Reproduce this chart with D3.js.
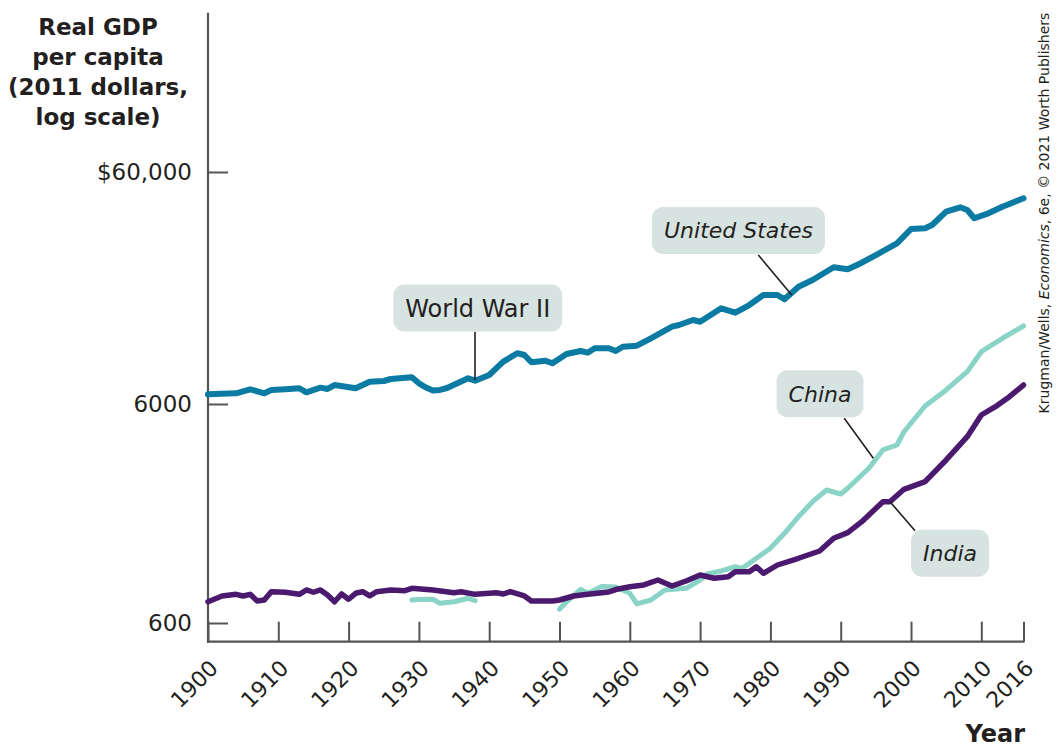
<!DOCTYPE html>
<html><head><meta charset="utf-8">
<script src="https://cdn.jsdelivr.net/npm/d3@7"></script>
<style>body{margin:0;background:#fff} svg{display:block}</style>
</head><body><svg id="c" width="1063" height="748"></svg>
<script>
// ---------- data ----------
const usYears  = [1900,1902,1904,1906,1908,1909,1911,1913,1914,1916,1917,1918,1921,1923,1925,1926,1929,1930,1931,1932,1933,1934,1937,1938,1940,1942,1944,1945,1946,1948,1949,1951,1953,1954,1955,1957,1958,1959,1961,1963,1966,1967,1969,1970,1973,1975,1977,1979,1981,1982,1984,1986,1989,1991,1993,1995,1998,2000,2002,2003,2005,2007,2008,2009,2011,2013,2016];
const usValues = [6606,6650,6673,6943,6673,6896,6950,7014,6739,7056,6964,7243,7014,7488,7539,7690,7820,7367,7068,6859,6896,7033,7742,7561,8002,9131,9926,9757,9079,9222,8987,9858,10153,9984,10433,10433,10153,10596,10703,11519,12924,13144,13811,13578,15510,14849,16026,17699,17699,16963,19224,20540,23304,22848,24385,26320,29570,34074,34308,35454,40470,42270,41154,37896,39822,42528,46206];

const indiaYears  = [1900,1902,1904,1905,1906,1907,1908,1909,1911,1913,1914,1915,1916,1917,1918,1919,1920,1921,1922,1923,1924,1926,1928,1929,1932,1935,1936,1938,1941,1942,1943,1945,1946,1949,1950,1952,1954,1956,1957,1958,1960,1962,1964,1966,1968,1970,1972,1974,1975,1977,1978,1979,1981,1984,1987,1989,1991,1993,1996,1997,1999,2002,2005,2008,2010,2012,2014,2016];
const indiaValues = [750,797,811,797,811,756,764,834,829,811,849,829,849,805,750,814,770,820,834,799,834,849,843,864,849,825,834,811,825,814,834,797,756,756,764,797,811,825,831,853,879,895,943,885,933,994,960,976,1029,1029,1084,1012,1104,1185,1279,1462,1551,1741,2148,2148,2447,2651,3331,4255,5345,5833,6452,7243];

const chinaYears  = [1929,1930,1932,1933,1935,1937,1938,1944,1950,1951,1953,1954,1956,1958,1960,1961,1963,1965,1968,1970,1971,1973,1975,1976,1978,1980,1982,1984,1986,1988,1990,1991,1994,1996,1998,1999,2002,2005,2008,2010,2013,2016];
const chinaValues = [764,768,770,738,750,778,759,null,693,750,855,820,881,876,820,733,764,849,864,943,1004,1037,1084,1066,1185,1316,1541,1835,2148,2429,2329,2474,3052,3700,3899,4483,5875,6896,8270,10082,11519,13016];

const xTickValues = [1900,1910,1920,1930,1940,1950,1960,1970,1980,1990,2000,2010,2016];
const yTickValues = [600,6000,60000];
const yTickLabels = ["600","6000","$60,000"];
const titleLines  = ["Real GDP","per capita","(2011 dollars,","log scale)"];

// annotations: label, box centre, leader start, leader end (year, value)
const annoLabels  = ["World War II","United States","China","India"];
const annoItalic  = [false,true,true,true];
const annoBox     = [[1938.37,15557],[1975.46,33570],[1987.06,6647],[2005.55,1249]];
const annoFrom    = [[1937.98,12296],[1978.28,26320],[1990.5,5161],[2000.57,1584]];
const annoTo      = [[1937.98,7613],[1983.03,17699],[1994.64,3390],[1997.01,2148]];

// ---------- chart ----------
const svg = d3.select("#c");
const FONT = "'DejaVu Sans', sans-serif";
const AXIS = "#555";
const x = d3.scaleLinear().domain([1900,2016]).range([208,1023.5]);
const y = d3.scaleLog().domain([600,6000,60000]).range([623,404,172]);
const baseY = 641.7, topY = 12.7;

// axis lines
svg.append("line").attr("x1",x(1900)).attr("x2",x(1900)).attr("y1",topY).attr("y2",baseY+1)
  .attr("stroke",AXIS).attr("stroke-width",2.2);
svg.append("line").attr("x1",x(1900)-1).attr("x2",x(2016)+1).attr("y1",baseY).attr("y2",baseY)
  .attr("stroke",AXIS).attr("stroke-width",2.2);

// y axis ticks
const yAxis = d3.axisLeft(y).tickValues(yTickValues)
  .tickFormat((d,i)=>yTickLabels[i]).tickSizeInner(-20).tickSizeOuter(0).tickPadding(16);
const gy = svg.append("g").attr("transform",`translate(${x(1900)},0)`).call(yAxis);
gy.select(".domain").remove();
gy.selectAll("line").attr("stroke",AXIS).attr("stroke-width",2);
gy.selectAll("text").attr("font-family",FONT).attr("font-size",23).attr("fill","#231f20");

// x axis ticks
const xAxis = d3.axisBottom(x).tickValues(xTickValues).tickFormat(d3.format("d"))
  .tickSizeInner(-20).tickSizeOuter(0);
const gx = svg.append("g").attr("transform",`translate(0,${baseY})`).call(xAxis);
gx.select(".domain").remove();
gx.selectAll("line").attr("stroke",AXIS).attr("stroke-width",2);
gx.selectAll("text").attr("font-family",FONT).attr("font-size",22).attr("fill","#231f20")
  .attr("x",0).attr("y",0).attr("dy",null).attr("text-anchor","end")
  .attr("transform","translate(11,28) rotate(-45)");

// lines
const line = d3.line().defined(d=>d[1]!=null).x(d=>x(d[0])).y(d=>y(d[1])).curve(d3.curveLinear);
function series(yrs, vals, color, w){
  svg.append("path").datum(yrs.map((yr,i)=>[yr,vals[i]]))
    .attr("d",line).attr("fill","none").attr("stroke",color).attr("stroke-width",w)
    .attr("stroke-linejoin","round").attr("stroke-linecap","round");
}
series(chinaYears, chinaValues, "#8ad3c7", 5);
series(indiaYears, indiaValues, "#4b1a6f", 5.5);
series(usYears, usValues, "#0b7ba3", 6);

// annotations
annoLabels.forEach((lab,i)=>{
  svg.append("line")
    .attr("x1",x(annoFrom[i][0])).attr("y1",y(annoFrom[i][1]))
    .attr("x2",x(annoTo[i][0])).attr("y2",y(annoTo[i][1]))
    .attr("stroke","#231f20").attr("stroke-width",1.6);
  const cx = x(annoBox[i][0]), cy = y(annoBox[i][1]);
  const g = svg.append("g");
  const rect = g.append("rect").attr("fill","#d7e3e1").attr("rx",11);
  const t = g.append("text").attr("x",cx).attr("y",cy).attr("dy","0.36em")
    .attr("text-anchor","middle").attr("font-family",FONT)
    .attr("font-size",annoItalic[i]?22:24).attr("font-style",annoItalic[i]?"italic":"normal")
    .attr("fill","#231f20").text(lab);
  const w = t.node().getComputedTextLength() + 24, h = 47;
  rect.attr("x",cx-w/2).attr("y",cy-h/2).attr("width",w).attr("height",h);
});

// title
const title = svg.append("text").attr("font-family",FONT).attr("font-weight","bold")
  .attr("font-size",23).attr("fill","#231f20").attr("text-anchor","middle");
titleLines.forEach((l,i)=>title.append("tspan").attr("x",98).attr("y",34.5+i*30.3).text(l));

// x title
svg.append("text").attr("x",1025).attr("y",742).attr("text-anchor","end")
  .attr("font-family",FONT).attr("font-weight","bold").attr("font-size",24)
  .attr("fill","#231f20").text("Year");

// credit
const cr = svg.append("text").attr("transform","translate(1049,213) rotate(-90)")
  .attr("text-anchor","middle").attr("font-family",FONT).attr("font-size",14).attr("fill","#231f20");
cr.append("tspan").text("Krugman/Wells, ");
cr.append("tspan").attr("font-style","italic").text("Economics");
cr.append("tspan").text(", 6e, © 2021 Worth Publishers");
</script></body></html>
